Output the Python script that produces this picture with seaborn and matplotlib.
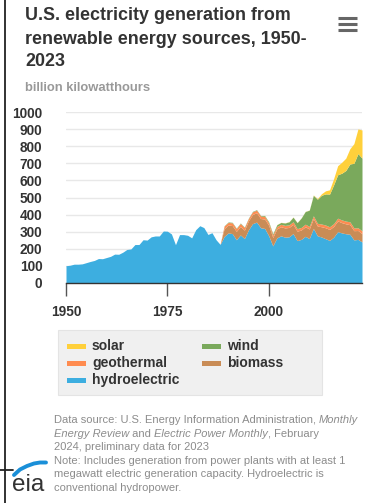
import seaborn as sns
import matplotlib.pyplot as plt
import numpy as np
from matplotlib.lines import Line2D
from matplotlib.patches import Rectangle


years = list(range(1950, 2024))

# billion kWh (EIA)
hydroelectric = [
    101, 104, 110, 110, 112, 119, 126, 132, 143, 142,
    149, 156, 169, 168, 180, 196, 199, 225, 225, 253,
    251, 270, 275, 275, 304, 303, 287, 224, 283, 283,
    279, 264, 312, 335, 324, 284, 294, 253, 226, 272,
    293, 289, 253, 281, 260, 311, 347, 356, 323, 319,
    276, 217, 264, 276, 268, 270, 289, 248, 255, 273,
    260, 319, 276, 269, 259, 249, 268, 300, 293, 288,
    285, 252, 255, 240,
]
biomass = [0] * 39 + [
    46, 46, 47, 49, 50, 49, 53, 54, 55, 54,
    55, 61, 49, 53, 53, 54, 55, 54, 55, 55,
    56, 56, 58, 57, 60, 64, 64, 63, 63, 60,
    58, 56, 54, 52, 48,
]
geothermal = [0] * 39 + [
    15, 15, 16, 16, 17, 15, 13, 15, 15, 15,
    15, 14, 14, 14, 14, 15, 15, 15, 15, 15,
    15, 15, 16, 16, 16, 16, 16, 16, 16, 16,
    16, 17, 16, 16, 17,
]
wind = [0] * 39 + [
    2, 3, 3, 3, 3, 3, 3, 3, 3, 3,
    5, 6, 7, 10, 11, 14, 18, 27, 35, 55,
    74, 95, 120, 141, 168, 182, 191, 227, 254, 273,
    296, 338, 378, 434, 425,
]
solar = [0] * 39 + [
    0, 0, 0, 0, 0, 0, 0, 0, 0, 0,
    1, 1, 1, 1, 1, 1, 1, 1, 1, 1,
    1, 1, 2, 4, 9, 18, 25, 36, 53, 64,
    72, 89, 115, 144, 165,
]

series = ["hydroelectric", "biomass", "geothermal", "wind", "solar"]
values = [hydroelectric, biomass, geothermal, wind, solar]
colors = {
    "solar": "#FFD03B",
    "wind": "#7AA95C",
    "geothermal": "#FF8C50",
    "biomass": "#C98C56",
    "hydroelectric": "#3DAEE0",
}
y_ticks = [0, 100, 200, 300, 400, 500, 600, 700, 800, 900, 1000]
x_ticks = [1950, 1975, 2000]

sns.set_theme(style="white")
plt.rcParams["font.family"] = ["Liberation Sans", "DejaVu Sans"]

W, H = 375, 503
fig = plt.figure(figsize=(W / 100, H / 100), dpi=100)


def fx(px):
    return px / W


def fy(py):
    return 1 - py / H


ax = fig.add_axes([fx(66), fy(283), fx(362) - fx(66), fy(112) - fy(283)])
ax.stackplot(years, *values, colors=[colors[s] for s in series],
             linewidth=0, zorder=2)

ax.set_xlim(1950, 2023)
ax.set_ylim(0, 1000)
ax.set_yticks(y_ticks)
ax.set_xticks(x_ticks)
ax.set_yticklabels([str(v) for v in y_ticks], fontsize=9.8,
                   fontweight="bold", color="#333333")
ax.set_xticklabels([str(v) for v in x_ticks], fontsize=9.8,
                   fontweight="bold", color="#333333")
ax.grid(axis="y", color="#e8e8e8", linewidth=1, zorder=0)
ax.grid(axis="x", visible=False)
for side in ["top", "right", "left"]:
    ax.spines[side].set_visible(False)
ax.spines["bottom"].set_color("#333333")
ax.spines["bottom"].set_linewidth(1)
ax.spines["bottom"].set_zorder(3)
ax.tick_params(axis="y", length=0, pad=17)
ax.tick_params(axis="x", length=9, width=1, color="#555555",
               direction="out", pad=6.5, bottom=True)

# title and unit label
title_lines = ["U.S. electricity generation from",
               "renewable energy sources, 1950-", "2023"]
for i, line in enumerate(title_lines):
    fig.text(fx(25), fy(16 + i * 23), line, fontsize=12.9,
             fontweight="bold", color="#333333", va="center", ha="left")
fig.text(fx(25), fy(88), "billion kilowatthours", fontsize=9.4,
         fontweight="bold", color="#999999", va="center", ha="left")

# menu icon
for yy in [18, 24, 30]:
    fig.add_artist(Line2D([fx(338), fx(357)], [fy(yy), fy(yy)],
                          color="#666666", linewidth=2.2,
                          solid_capstyle="butt"))

# legend box
fig.add_artist(Rectangle((fx(58), fy(395)), fx(322) - fx(58),
                         fy(330) - fy(395), facecolor="#f0f0f0",
                         edgecolor="#e4e4e4", linewidth=0.8))
legend_items = [
    ("solar", 67, 346), ("wind", 202, 346),
    ("geothermal", 67, 363), ("biomass", 202, 363),
    ("hydroelectric", 67, 380),
]
for name, px, py in legend_items:
    fig.add_artist(Rectangle((fx(px), fy(py + 2.5)), fx(19), fy(0) - fy(5),
                             facecolor=colors[name], edgecolor="none"))
    fig.text(fx(px + 25), fy(py), name, fontsize=10, fontweight="bold",
             color="#333333", va="center", ha="left")

# footnote with italic pieces
renderer = fig.canvas.get_renderer()
note_lines = [
    [("Data source: U.S. Energy Information Administration, ", "normal"),
     ("Monthly", "italic")],
    [("Energy Review", "italic"), (" and ", "normal"),
     ("Electric Power Monthly", "italic"), (", February", "normal")],
    [("2024, preliminary data for 2023", "normal")],
    [("Note: Includes generation from power plants with at least 1", "normal")],
    [("megawatt electric generation capacity. Hydroelectric is", "normal")],
    [("conventional hydropower.", "normal")],
]
for i, pieces in enumerate(note_lines):
    x = fx(54)
    y = fy(420 + i * 13.6)
    for txt, style in pieces:
        t = fig.text(x, y, txt, fontsize=8.0, style=style, color="#8c8c8c",
                     va="center", ha="left")
        bb = t.get_window_extent(renderer=renderer)
        x += bb.width / W

# eia logo
fig.text(fx(12), fy(485), "eia", fontsize=17.5, color="#333333",
         va="center", ha="left")
arc_x = np.array([14, 20, 27, 34, 40, 46])
arc_y = np.array([475, 469.5, 466, 463.5, 462.5, 462.5])
fig.add_artist(Line2D(fx(arc_x), fy(arc_y), color="#1a8fd8",
                      linewidth=2.8, solid_capstyle="round"))

# screenshot frame edges
fig.add_artist(Line2D([fx(4.5), fx(4.5)], [0, 1], color="#222222",
                      linewidth=1.3))
fig.add_artist(Line2D([0, fx(13)], [fy(470), fy(470)], color="#222222",
                      linewidth=1.3))

fig.savefig("out.png", dpi=100)
